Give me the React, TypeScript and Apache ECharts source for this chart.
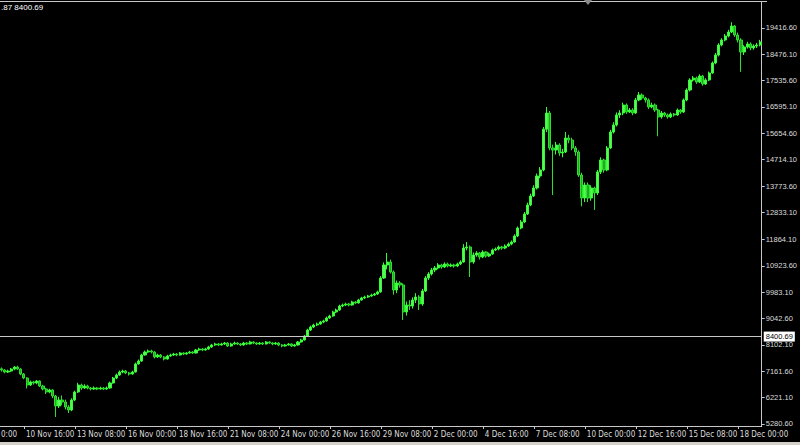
import React, { useEffect, useRef } from "react";
import * as echarts from "echarts";

// H4 bars, first bar 9 Nov 2017 12:00
const START_UTC = Date.UTC(2017, 10, 9, 12);
const MONTHS = ["Jan", "Feb", "Mar", "Apr", "May", "Jun", "Jul", "Aug", "Sep", "Oct", "Nov", "Dec"];

// [open, close, low, high]
const candles: number[][] = [
  [7250, 7208, 7150, 7300], [7208, 7136, 7090, 7240], [7136, 7172, 7100, 7220], [7172, 7244, 7140, 7280],
  [7244, 7315, 7200, 7350], [7315, 7244, 7210, 7360], [7244, 7065, 7020, 7270], [7065, 6922, 6880, 7100],
  [6922, 6672, 6550, 6950], [6672, 6780, 6640, 6830], [6780, 6744, 6690, 6820], [6744, 6815, 6700, 6850],
  [6815, 6637, 6600, 6840], [6637, 6530, 6480, 6680], [6530, 6423, 6350, 6570], [6423, 6494, 6380, 6540],
  [6494, 6280, 6200, 6520], [6280, 5923, 5530, 6320], [5923, 6137, 5850, 6250], [6137, 6066, 5950, 6300],
  [6066, 5887, 5800, 6150], [5887, 5780, 5673, 5950], [5780, 6137, 5740, 6200], [6137, 6423, 6100, 6470],
  [6423, 6672, 6390, 6750], [6672, 6565, 6500, 6720], [6565, 6637, 6530, 6700], [6637, 6565, 6520, 6680],
  [6565, 6530, 6480, 6600], [6530, 6565, 6500, 6620], [6565, 6530, 6490, 6600], [6530, 6565, 6510, 6610],
  [6565, 6530, 6490, 6600], [6530, 6565, 6500, 6620], [6565, 6744, 6540, 6790], [6744, 6922, 6720, 6960],
  [6922, 7029, 6880, 7080], [7029, 7136, 7000, 7190], [7136, 7172, 7090, 7220], [7172, 7101, 7060, 7210],
  [7101, 7065, 7010, 7140], [7065, 7136, 7040, 7180], [7136, 7422, 7120, 7470], [7422, 7529, 7400, 7580],
  [7529, 7743, 7500, 7790], [7743, 7850, 7720, 7900], [7850, 7886, 7820, 7940], [7886, 7850, 7800, 7930],
  [7850, 7672, 7620, 7880], [7672, 7743, 7640, 7790], [7743, 7672, 7630, 7780], [7672, 7600, 7550, 7700],
  [7600, 7707, 7580, 7750], [7707, 7743, 7680, 7790], [7743, 7779, 7710, 7820], [7779, 7743, 7700, 7810],
  [7743, 7815, 7720, 7850], [7815, 7779, 7740, 7840], [7779, 7815, 7750, 7850], [7815, 7850, 7790, 7890],
  [7850, 7815, 7780, 7880], [7815, 7922, 7800, 7960], [7922, 7957, 7890, 8000], [7957, 7922, 7880, 7990],
  [7922, 7957, 7900, 8000], [7957, 8029, 7930, 8070], [8029, 8100, 8000, 8140], [8100, 8136, 8070, 8180],
  [8136, 8100, 8060, 8170], [8100, 8136, 8080, 8180], [8136, 8172, 8100, 8210], [8172, 8064, 8030, 8200],
  [8064, 8136, 8040, 8180], [8136, 8172, 8110, 8220], [8172, 8136, 8100, 8200], [8136, 8100, 8060, 8170],
  [8100, 8172, 8080, 8210], [8172, 8136, 8100, 8200], [8136, 8207, 8120, 8250], [8207, 8172, 8130, 8230],
  [8172, 8136, 8100, 8200], [8136, 8172, 8110, 8210], [8172, 8136, 8100, 8200], [8136, 8207, 8120, 8240],
  [8207, 8172, 8140, 8230], [8172, 8136, 8090, 8200], [8136, 8172, 8110, 8210], [8172, 8100, 8060, 8200],
  [8100, 8064, 8020, 8130], [8064, 8100, 8040, 8140], [8100, 8136, 8080, 8170], [8136, 8064, 8030, 8160],
  [8064, 8100, 8040, 8140], [8100, 8207, 8080, 8240], [8207, 8279, 8180, 8320], [8279, 8421, 8260, 8460],
  [8421, 8635, 8400, 8680], [8635, 8742, 8600, 8790], [8742, 8814, 8700, 8860], [8814, 8850, 8780, 8900],
  [8850, 8921, 8820, 8960], [8921, 8957, 8880, 9000], [8957, 9064, 8930, 9110], [9064, 9135, 9030, 9180],
  [9135, 9278, 9110, 9320], [9278, 9349, 9240, 9400], [9349, 9492, 9320, 9540], [9492, 9528, 9450, 9580],
  [9528, 9563, 9490, 9610], [9563, 9528, 9480, 9600], [9528, 9635, 9500, 9680], [9635, 9599, 9560, 9670],
  [9599, 9706, 9580, 9750], [9706, 9777, 9680, 9820], [9777, 9813, 9740, 9860], [9813, 9849, 9780, 9890],
  [9849, 9885, 9820, 9930], [9885, 9920, 9850, 9960], [9920, 9992, 9890, 10040], [9992, 10491, 9970, 10560],
  [10491, 10955, 10460, 11050], [10955, 11062, 10800, 11384], [11062, 10705, 10650, 11150], [10705, 10063, 9900, 10760],
  [10063, 10313, 9950, 10400], [10313, 10242, 10150, 10380], [10242, 9278, 8992, 10300], [9278, 9528, 9150, 9650],
  [9528, 9492, 9350, 9700], [9492, 9706, 9400, 9800], [9706, 9813, 9600, 9950], [9813, 9563, 9349, 9880],
  [9563, 10027, 9500, 10100], [10027, 10491, 9990, 10560], [10491, 10634, 10420, 10700], [10634, 10777, 10580, 10850],
  [10777, 10848, 10700, 10920], [10848, 10955, 10800, 11020], [10955, 10884, 10820, 11000], [10884, 10991, 10850, 11050],
  [10991, 10920, 10870, 11040], [10920, 10955, 10880, 11010], [10955, 10920, 10860, 11000], [10920, 10991, 10880, 11040],
  [10991, 11062, 10950, 11120], [11062, 11562, 11040, 11700], [11562, 11598, 11480, 11776], [11598, 11062, 10527, 11650],
  [11062, 11312, 11000, 11400], [11312, 11384, 11250, 11450], [11384, 11241, 11150, 11420], [11241, 11419, 11200, 11480],
  [11419, 11277, 11220, 11450], [11277, 11348, 11240, 11400], [11348, 11491, 11320, 11540], [11491, 11526, 11450, 11580],
  [11526, 11598, 11480, 11650], [11598, 11562, 11500, 11640], [11562, 11633, 11520, 11690], [11633, 11705, 11600, 11760],
  [11705, 11776, 11660, 11830], [11776, 11990, 11750, 12050], [11990, 12276, 11950, 12330], [12276, 12490, 12230, 12560],
  [12490, 12775, 12450, 12850], [12775, 13097, 12740, 13180], [13097, 13418, 13050, 13500], [13418, 13703, 13380, 13800],
  [13703, 14132, 13650, 14220], [14132, 14346, 14050, 14450], [14346, 15800, 14300, 15880], [15800, 16380, 15700, 16594],
  [16380, 15131, 15050, 16450], [15131, 15060, 13454, 15250], [15060, 15238, 14900, 15350], [15238, 14952, 14850, 15300],
  [14952, 14988, 14800, 15100], [14988, 15488, 14950, 15700], [15488, 15417, 15300, 15600], [15417, 15131, 15050, 15500],
  [15131, 14988, 14850, 15200], [14988, 14167, 14100, 15050], [14167, 13347, 13050, 14250], [13347, 13811, 13200, 13900],
  [13811, 13347, 13200, 13900], [13347, 13703, 13250, 13800], [13703, 13525, 12920, 13750], [13525, 14274, 13450, 14350],
  [14274, 14703, 14200, 14800], [14703, 14346, 14250, 14750], [14346, 15131, 14300, 15200], [15131, 15702, 15100, 15780],
  [15702, 15952, 15650, 16050], [15952, 16309, 15900, 16400], [16309, 16380, 16200, 16480], [16380, 16666, 16300, 16750],
  [16666, 16416, 16350, 16720], [16416, 16487, 16380, 16560], [16487, 16380, 16300, 16550], [16380, 16844, 16350, 16920],
  [16844, 17023, 16800, 17130], [17023, 16916, 16850, 17080], [16916, 16844, 16750, 16960], [16844, 16594, 16520, 16900],
  [16594, 16666, 16550, 16750], [16666, 16487, 16420, 16720], [16487, 16238, 15550, 16530], [16238, 16380, 16180, 16450],
  [16380, 16309, 16240, 16420], [16309, 16238, 16180, 16360], [16238, 16345, 16200, 16400], [16345, 16309, 16250, 16380],
  [16309, 16487, 16280, 16540], [16487, 16416, 16350, 16520], [16416, 16844, 16380, 16900], [16844, 17201, 16800, 17260],
  [17201, 17558, 17150, 17620], [17558, 17629, 17500, 17700], [17629, 17487, 17420, 17680], [17487, 17701, 17450, 17760],
  [17701, 17415, 17350, 17740], [17415, 17558, 17380, 17620], [17558, 17808, 17520, 17860], [17808, 18165, 17780, 18220],
  [18165, 18450, 18120, 18520], [18450, 18808, 18400, 18870], [18808, 18986, 18760, 19050], [18986, 19128, 18940, 19200],
  [19128, 19271, 19080, 19350], [19271, 19485, 19230, 19620], [19485, 19164, 19100, 19520], [19164, 18986, 18900, 19250],
  [18986, 18557, 17850, 19050], [18557, 18736, 18450, 18800], [18736, 18843, 18680, 18920], [18843, 18700, 18620, 18900],
  [18700, 18771, 18640, 18830], [18771, 18808, 18700, 18880], [18808, 18914, 18760, 18990],
];

const yTickValues = [5280.6, 6221.1, 7161.6, 8102.1, 9042.6, 9983.1, 10923.6, 11864.1, 12833.1, 13773.6, 14714.1, 15654.6, 16595.1, 17535.6, 18476.1, 19416.6];
const yTickLabels = ["5280.60", "6221.10", "7161.60", "8102.10", "9042.60", "9983.10", "10923.60", "11864.10", "12833.10", "13773.60", "14714.10", "15654.60", "16595.10", "17535.60", "18476.10", "19416.60"];

const LEVEL = 8400.69;
const LEVEL_LABEL = "8400.69";
// visible tail of the OHLC header and of the first (clipped) time label
const HEADER_TEXT = ".87 8400.69";
const FIRST_LABEL_TAIL = "0:00";

const LABEL_START = 7;
const LABEL_STEP = 16;

function pad2(n: number) {
  return n < 10 ? "0" + n : "" + n;
}

const categories: string[] = candles.map((_, i) => {
  const d = new Date(START_UTC + i * 4 * 3600 * 1000);
  return `${d.getUTCDate()} ${MONTHS[d.getUTCMonth()]} ${pad2(d.getUTCHours())}:${pad2(d.getUTCMinutes())}`;
});

export default function App() {
  const ref = useRef<HTMLDivElement>(null);

  useEffect(() => {
    document.body.style.margin = "0";
    document.body.style.background = "#000";
    const chart = echarts.init(ref.current!, null, { renderer: "svg" });
    const labelFont = "'Liberation Sans Narrow', 'DejaVu Sans Condensed', 'Liberation Sans', sans-serif";
    const yFont = "'Liberation Sans', Arial, sans-serif";
    const showIdx = (i: number) => i >= LABEL_START && (i - LABEL_START) % LABEL_STEP === 0;
    chart.setOption({
      animation: false,
      backgroundColor: "#000000",
      grid: { left: 0, right: 33, top: 2, bottom: 19, containLabel: false },
      xAxis: {
        type: "category",
        data: categories,
        boundaryGap: true,
        axisLine: { show: true, lineStyle: { color: "#c8c8c8", width: 1 } },
        axisTick: { show: true, interval: (i: number) => showIdx(i), alignWithLabel: true, length: 3, lineStyle: { color: "#c8c8c8" } },
        axisLabel: {
          show: true,
          interval: (i: number) => showIdx(i),
          align: "left",
          color: "#dcdcdc",
          fontSize: 8,
          fontFamily: labelFont,
          margin: 4,
          padding: [0, 0, 0, 2],
        },
        splitLine: { show: false },
      },
      yAxis: {
        type: "value",
        position: "right",
        min: 5209.2,
        max: 20341.8,
        scale: true,
        axisLine: { show: true, lineStyle: { color: "#c8c8c8", width: 1 } },
        axisTick: { show: true, customValues: yTickValues, length: 3, lineStyle: { color: "#c8c8c8" } },
        axisLabel: {
          show: true,
          customValues: yTickValues,
          formatter: (v: number) => {
            const idx = yTickValues.findIndex((t) => Math.abs(t - v) < 0.01);
            return idx >= 0 ? yTickLabels[idx] : "";
          },
          color: "#dcdcdc",
          fontSize: 7.5,
          fontFamily: yFont,
          margin: 4,
        },
        splitLine: { show: false },
      },
      series: [
        {
          type: "candlestick",
          data: candles,
          barWidth: 2.6,
          itemStyle: {
            color: "#66f066",
            color0: "#22a822",
            borderColor: "#30ff30",
            borderColor0: "#2ee02e",
            borderWidth: 1,
          },
          markLine: {
            silent: true,
            symbol: "none",
            animation: false,
            lineStyle: { color: "#c8c8c8", width: 1, type: "solid" },
            label: {
              show: true,
              position: "end",
              formatter: LEVEL_LABEL,
              backgroundColor: "#ffffff",
              color: "#000000",
              fontSize: 7.5,
              fontFamily: yFont,
              padding: [1, 2, 1, 2],
              distance: 2,
            },
            data: [{ yAxis: LEVEL }],
          },
        },
      ],
      graphic: [
        { type: "line", shape: { x1: 0, y1: 1.5, x2: 767, y2: 1.5 }, style: { stroke: "#c8c8c8", lineWidth: 1 }, silent: true },
        { type: "polygon", shape: { points: [[584, 0], [592, 0], [588, 5]] }, style: { fill: "#8a8a8a" }, silent: true },
        {
          type: "text",
          x: 1,
          y: 7.5,
          style: { text: HEADER_TEXT, align: "left", verticalAlign: "middle", fill: "#ffffff", fontSize: 8, fontFamily: yFont },
          silent: true,
        },
        {
          type: "text",
          x: 1,
          y: 430,
          style: { text: FIRST_LABEL_TAIL, align: "left", verticalAlign: "top", fill: "#dcdcdc", fontSize: 8, fontFamily: labelFont },
          silent: true,
        },
        { type: "rect", shape: { x: 0, y: 442, width: 800, height: 3 }, style: { fill: "#d4d0c8" }, silent: true },
      ],
    });
    return () => chart.dispose();
  }, []);

  return <div ref={ref} style={{ width: 800, height: 445, background: "#000" }} />;
}
